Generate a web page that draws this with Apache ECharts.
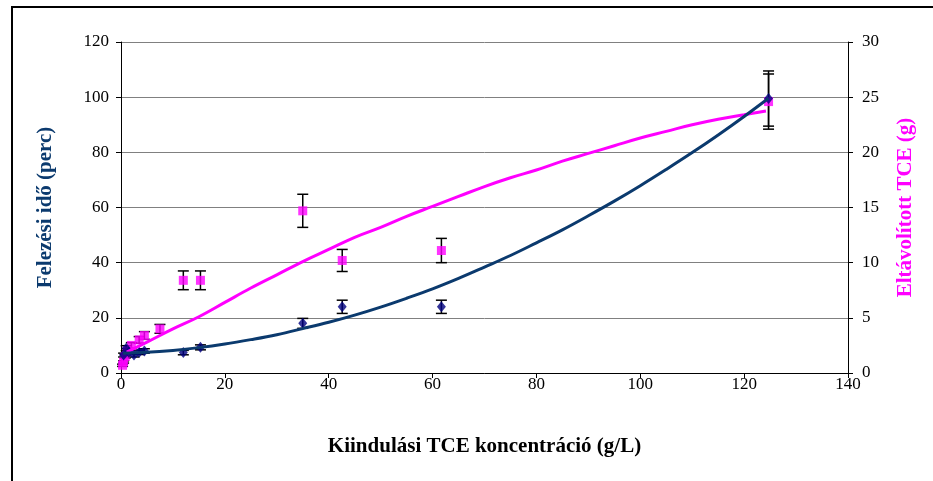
<!DOCTYPE html>
<html>
<head>
<meta charset="utf-8">
<script src="https://cdn.jsdelivr.net/npm/echarts@6/dist/echarts.min.js"></script>
<style>
  html, body { margin: 0; padding: 0; background: #fff; }
  #chart { width: 933px; height: 481px; }
</style>
</head>
<body>
<div id="chart"></div>
<script>
// Initial TCE concentration (g/L) for each measurement
const concHalf = [0.5, 1.0, 1.5, 2.5, 3.5, 4.5, 12.0, 15.3, 35.0, 42.6, 61.7, 124.7];
// Half-life (minutes) and its error
const halfLife = [6.5, 9.0, 7.5, 6.5, 7.5, 8.0, 7.4, 9.3, 18.0, 24.0, 24.0, 99.5];
const halfLifeErr = [0.7, 0.9, 0.8, 0.7, 0.8, 0.8, 0.8, 0.9, 1.8, 2.4, 2.4, 10.0];

const concRemoved = [0.3, 0.5, 0.8, 1.2, 2.0, 3.5, 4.5, 7.5, 12.0, 15.3, 35.0, 42.6, 61.7, 124.7];
// Removed TCE (g) and its error
const removed = [0.7, 1.0, 1.5, 2.0, 2.5, 3.0, 3.4, 4.0, 8.4, 8.4, 14.7, 10.2, 11.1, 24.6];
const removedErr = [0.1, 0.1, 0.15, 0.2, 0.25, 0.3, 0.35, 0.4, 0.85, 0.85, 1.5, 1.0, 1.1, 2.5];

// Trend line of the half-life
const trendHalfX = [0.4, 5, 10, 15, 20, 25, 30, 35, 40, 45, 50, 55, 60, 65, 70, 75, 80, 85, 90, 95, 100, 105, 110, 115, 120, 124.7];
const trendHalfY = [7.2, 7.5, 8.2, 9.2, 10.5, 12.1, 13.9, 16.1, 18.4, 21.0, 23.9, 27.1, 30.5, 34.3, 38.4, 42.6, 47.2, 51.9, 57.0, 62.3, 67.9, 73.8, 79.9, 86.3, 93.0, 99.6];

// Trend line of the removed TCE
const trendRemX = [1.1, 5, 10, 15, 20, 25, 30, 35, 40, 45, 50, 55, 60, 65, 70, 75, 80, 85, 90, 95, 100, 105, 110, 115, 120, 124.2];
const trendRemY = [1.9, 2.8, 4.0, 5.1, 6.4, 7.7, 8.9, 10.1, 11.2, 12.3, 13.2, 14.2, 15.1, 16.0, 16.9, 17.7, 18.4, 19.2, 19.9, 20.6, 21.3, 21.9, 22.5, 23.0, 23.4, 23.75];

const pair = (xs, ys) => xs.map((x, i) => [x, ys[i]]);
const errData = (xs, ys, es) => xs.map((x, i) => [x, ys[i] - es[i], ys[i] + es[i]]);

function errorBar(params, api) {
  const x = api.value(0);
  const top = api.coord([x, api.value(2)]);
  const bot = api.coord([x, api.value(1)]);
  const w = 5.5;
  const st = { stroke: '#000', lineWidth: 1.5 };
  return {
    type: 'group',
    children: [
      { type: 'line', shape: { x1: top[0], y1: top[1], x2: bot[0], y2: bot[1] }, style: st },
      { type: 'line', shape: { x1: top[0] - w, y1: top[1], x2: top[0] + w, y2: top[1] }, style: st },
      { type: 'line', shape: { x1: bot[0] - w, y1: bot[1], x2: bot[0] + w, y2: bot[1] }, style: st }
    ]
  };
}

const serif = '"Liberation Serif", "Times New Roman", serif';
const chart = echarts.init(document.getElementById('chart'), null, { renderer: 'canvas' });

chart.setOption({
  animation: false,
  backgroundColor: '#fff',
  graphic: [
    { type: 'rect', shape: { x: 12, y: 7, width: 960, height: 520 }, style: { fill: 'none', stroke: '#000', lineWidth: 2 }, z: 100 }
  ],
  grid: { left: 121, right: 85, top: 42, bottom: 108 },
  xAxis: {
    type: 'value', min: 0, max: 140, interval: 20,
    name: 'Kiindulási TCE koncentráció (g/L)',
    nameLocation: 'middle', nameGap: 63,
    nameTextStyle: { fontFamily: serif, fontSize: 21, fontWeight: 'bold', color: '#000' },
    axisLine: { show: true, lineStyle: { color: '#000', width: 1 } },
    axisTick: { show: true, inside: false, length: 5, lineStyle: { color: '#000' } },
    axisLabel: { fontFamily: serif, fontSize: 17, color: '#000', margin: 3 },
    splitLine: { show: false }
  },
  yAxis: [
    {
      type: 'value', min: 0, max: 120, interval: 20,
      name: 'Felezési idő (perc)',
      nameLocation: 'middle', nameGap: 65, nameRotate: 90,
      nameTextStyle: { fontFamily: serif, fontSize: 21, fontWeight: 'bold', color: '#0B3A6E' },
      axisLine: { show: true, lineStyle: { color: '#000', width: 1 } },
      axisTick: { show: true, length: 5, lineStyle: { color: '#000' } },
      axisLabel: { fontFamily: serif, fontSize: 17, color: '#000', margin: 12 },
      splitLine: { show: true, lineStyle: { color: '#808080', width: 1 } }
    },
    {
      type: 'value', min: 0, max: 30, interval: 5, position: 'right',
      name: 'Eltávolított TCE (g)',
      nameLocation: 'middle', nameGap: 47, nameRotate: 90,
      nameTextStyle: { fontFamily: serif, fontSize: 21, fontWeight: 'bold', color: '#FF00FF' },
      axisLine: { show: true, lineStyle: { color: '#000', width: 1 } },
      axisTick: { show: true, length: 5, lineStyle: { color: '#000' } },
      axisLabel: { fontFamily: serif, fontSize: 17, color: '#000', margin: 14 },
      splitLine: { show: false }
    }
  ],
  series: [
    {
      type: 'custom', name: 'halfErr', xAxisIndex: 0, yAxisIndex: 0,
      renderItem: errorBar, data: errData(concHalf, halfLife, halfLifeErr), z: 2
    },
    {
      type: 'custom', name: 'remErr', xAxisIndex: 0, yAxisIndex: 1,
      renderItem: errorBar, data: errData(concRemoved, removed, removedErr), z: 2
    },
    {
      type: 'scatter', name: 'Eltávolított TCE', yAxisIndex: 1,
      symbol: 'rect', symbolSize: 9,
      itemStyle: { color: '#FF00FF' },
      data: pair(concRemoved, removed), z: 3
    },
    {
      type: 'scatter', name: 'Felezési idő', yAxisIndex: 0,
      symbol: 'diamond', symbolSize: [9, 11],
      itemStyle: { color: '#000080' },
      data: pair(concHalf, halfLife), z: 4
    },
    {
      type: 'line', name: 'remTrend', yAxisIndex: 1, smooth: 0.4,
      symbol: 'none', lineStyle: { color: '#FF00FF', width: 3 },
      data: pair(trendRemX, trendRemY), z: 5
    },
    {
      type: 'line', name: 'halfTrend', yAxisIndex: 0, smooth: 0.4,
      symbol: 'none', lineStyle: { color: '#0B3A6E', width: 3 },
      data: pair(trendHalfX, trendHalfY), z: 6
    }
  ]
});
</script>
</body>
</html>
